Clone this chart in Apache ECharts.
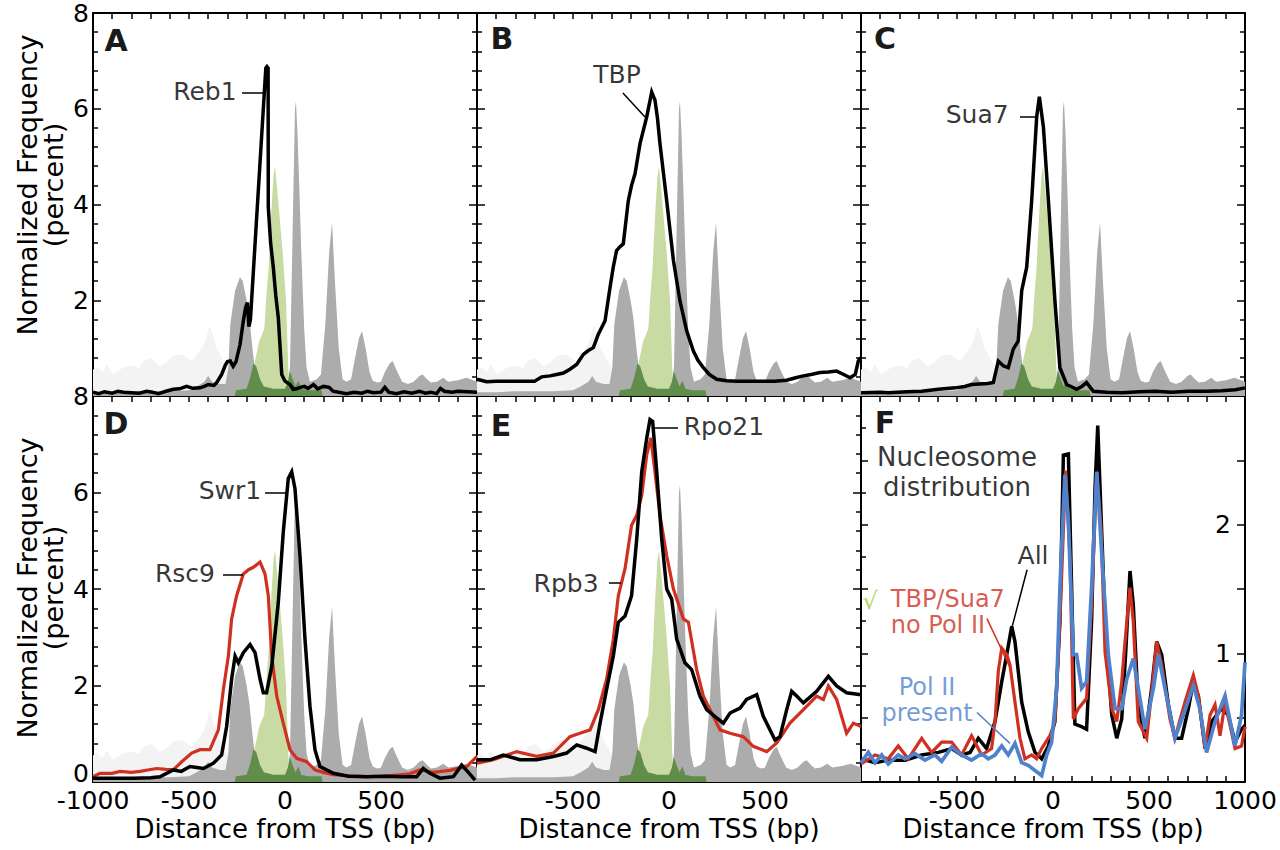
<!DOCTYPE html>
<html>
<head>
<meta charset="utf-8">
<script src="https://cdn.jsdelivr.net/npm/echarts@6/dist/echarts.min.js"></script>
<style>
html,body{margin:0;padding:0;background:#fff;}
#chart{width:1280px;height:850px;}
</style>
</head>
<body>
<div id="chart"></div>
<script>
// ---------------- DATA ----------------
// x ticks / labels
const xTickLabels = [-1000, -500, 0, 500, 1000];
const yTickLabels = [0, 2, 4, 6, 8];
const fTickLabels = [1, 2];

// Background nucleosome / TATA shading (shared by panels A–E)
const lightGrayX = [-1000,-980,-950,-929,-894,-860,-842,-790,-760,-738,-694,-670,-651,-620,-582,-538,-510,-486,-443,-420,-391,-370,-356,-321,-300,-285,-280];
const lightGrayY = [0.55,0.6,0.5,0.66,0.45,0.55,0.6,0.63,0.58,0.73,0.8,0.68,0.62,0.7,0.84,0.87,0.8,0.73,0.94,1.1,1.47,1.2,1.0,0.73,0.6,0.3,0];

const darkGrayX = [-1000,-900,-800,-700,-600,-500,-460,-420,-400,-380,-340,-310,-295,-285,-260,-235,-220,-200,-186,-168,-151,-130,-100,0,20,26,40,52,57,65,75,85,100,112,130,165,187,210,230,245,260,280,300,320,344,365,385,401,420,440,457,480,500,520,545,561,580,610,640,670,700,717,740,760,790,825,850,900,946,1000];
const darkGrayY = [0.08,0.08,0.1,0.1,0.1,0.12,0.2,0.3,0.42,0.3,0.25,0.25,0.6,1.5,2.2,2.48,2.4,2.0,1.64,0.94,0.35,0.3,0.3,0.3,0.35,0.6,3.5,6.0,6.15,5.5,4.3,3.0,1.4,0.6,0.3,0.35,0.45,1.5,3.0,3.63,2.4,1.0,0.35,0.3,0.35,0.8,1.2,1.36,1.0,0.5,0.32,0.28,0.3,0.5,0.68,0.73,0.55,0.3,0.25,0.3,0.42,0.45,0.35,0.28,0.3,0.38,0.3,0.33,0.38,0.3];

const lightGreenX = [-170,-160,-134,-108,-95,-85,-72,-60,-52,-40,-25,-12,5,17,26];
const lightGreenY = [0,0.66,1.15,1.4,2.2,2.7,3.8,4.6,4.8,4.3,3.6,3.0,2.0,0.6,0];

const darkGreenX = [-262,-255,-200,-180,-165,-150,-130,-110,-60,0,15,25,40,55,70,85,120,190,196];
const darkGreenY = [0,0.12,0.15,0.4,0.68,0.62,0.35,0.2,0.15,0.15,0.3,0.52,0.35,0.2,0.32,0.15,0.12,0.12,0];

// Panel A: Reb1
const reb1X = [-1000,-970,-940,-900,-870,-840,-800,-760,-720,-690,-660,-620,-582,-550,-512,-480,-443,-420,-399,-370,-356,-330,-310,-300,-285,-270,-255,-234,-217,-205,-196,-188,-180,-100,-94,-88,-87,-75,-61,-48,-35,-17,0,26,43,60,80,100,120,148,170,200,230,250,280,320,360,400,430,460,500,520,540,580,620,660,700,730,760,790,810,830,870,900,950,1000];
const reb1Y = [0.08,0.05,0.09,0.06,0.1,0.08,0.07,0.06,0.1,0.08,0.05,0.1,0.14,0.15,0.2,0.16,0.17,0.2,0.24,0.22,0.28,0.45,0.65,0.72,0.73,0.62,0.72,1.08,1.57,1.85,1.95,1.45,1.6,6.85,6.88,6.85,3.94,3.2,2.69,2.1,1.64,0.45,0.31,0.24,0.14,0.15,0.18,0.2,0.16,0.24,0.15,0.2,0.18,0.1,0.08,0.05,0.08,0.06,0.1,0.07,0.08,0.18,0.08,0.05,0.09,0.06,0.1,0.06,0.08,0.05,0.16,0.1,0.08,0.1,0.09,0.08];

// Panel B: TBP
const tbpX = [-1000,-950,-900,-800,-700,-663,-620,-585,-550,-516,-481,-446,-420,-394,-368,-333,-307,-290,-273,-255,-238,-212,-195,-177,-151,-116,-90,-73,-60,-47,-12,23,57,92,127,150,179,210,248,300,352,450,550,613,660,700,740,786,830,873,910,943,970,986,1000];
const tbpY = [0.35,0.3,0.31,0.31,0.31,0.4,0.42,0.45,0.48,0.56,0.66,0.87,0.95,1.01,1.29,1.57,2.27,2.7,3.04,3.12,3.18,4.08,4.4,4.64,5.27,5.83,6.35,6.18,5.8,5.27,4.08,2.83,1.99,1.36,0.94,0.75,0.59,0.45,0.35,0.32,0.31,0.31,0.31,0.33,0.38,0.42,0.45,0.49,0.5,0.52,0.45,0.38,0.45,0.73,0.8];

// Panel C: Sua7
const sua7X = [-1000,-900,-858,-760,-684,-597,-510,-460,-424,-340,-311,-285,-259,-233,-207,-181,-163,-137,-111,-85,-71,-50,-24,10,36,71,123,150,175,210,280,358,450,531,620,705,800,878,950,1000];
const sua7Y = [0.07,0.08,0.07,0.09,0.1,0.14,0.17,0.2,0.24,0.26,0.28,0.73,0.63,0.59,0.98,1.15,2.2,2.69,4.08,5.83,6.25,5.62,4.08,1.99,0.59,0.24,0.14,0.2,0.28,0.1,0.08,0.07,0.09,0.1,0.08,0.1,0.1,0.11,0.13,0.17];

// Panel D: Swr1 (black) and Rsc9 (red)
const swr1X = [-1000,-900,-790,-700,-651,-582,-540,-495,-460,-425,-373,-330,-304,-278,-260,-243,-217,-182,-156,-130,-113,-96,-69,-35,-9,17,35,52,78,104,130,156,182,252,330,425,520,599,686,720,755,807,877,920,955,990];
const swr1Y = [0.08,0.08,0.08,0.09,0.11,0.25,0.22,0.32,0.3,0.28,0.39,0.56,1.15,2.13,2.61,2.47,2.68,2.85,2.68,2.13,1.85,1.85,2.4,3.72,5.18,6.29,6.43,6.08,4.69,2.96,1.57,0.67,0.32,0.18,0.12,0.11,0.12,0.11,0.11,0.28,0.18,0.08,0.11,0.35,0.2,0.04];
const rsc9X = [-1000,-964,-900,-859,-800,-755,-700,-668,-620,-582,-538,-486,-443,-391,-347,-321,-295,-278,-252,-217,-190,-165,-130,-104,-87,-69,-43,-9,26,61,113,156,200,252,340,425,520,599,650,703,772,859,946,1000];
const rsc9Y = [0.11,0.18,0.18,0.22,0.2,0.22,0.26,0.28,0.26,0.25,0.42,0.6,0.67,0.67,1.08,1.92,2.61,3.38,3.86,4.31,4.4,4.45,4.56,4.31,3.86,2.61,1.78,1.22,0.67,0.49,0.42,0.25,0.2,0.15,0.13,0.11,0.12,0.15,0.17,0.25,0.2,0.24,0.32,0.53];

// Panel E: Rpo21 (black) and Rpb3 (red)
const rpo21X = [-1000,-932,-863,-776,-689,-602,-533,-481,-429,-385,-359,-325,-290,-264,-229,-195,-168,-142,-116,-99,-85,-64,-38,-12,14,40,83,118,161,196,248,283,318,370,404,457,491,552,578,613,639,665,700,769,830,873,925,1000];
const rpo21Y = [0.46,0.46,0.56,0.46,0.46,0.53,0.6,0.77,0.7,0.63,1.22,1.92,2.61,3.31,3.44,3.86,5.04,6.43,7.13,7.51,7.47,6.43,5.04,4.0,3.79,2.96,2.47,2.33,1.78,1.5,1.33,1.22,1.43,1.53,1.71,1.81,1.36,0.87,0.94,1.5,1.88,1.78,1.64,1.88,2.19,1.99,1.85,1.81];
const rpb3X = [-1000,-915,-793,-689,-602,-516,-464,-411,-368,-325,-290,-264,-229,-195,-168,-142,-116,-95,-73,-47,-12,23,75,101,144,179,231,266,318,387,439,509,561,630,700,769,804,830,873,925,960,1000];
const rpb3Y = [0.39,0.46,0.63,0.53,0.6,0.94,1.01,1.08,1.5,2.13,2.96,3.86,4.42,5.32,5.53,5.94,6.78,7.13,6.43,5.53,4.69,4.0,3.38,3.31,2.33,1.78,1.36,1.08,1.01,0.94,0.74,0.63,0.81,1.22,1.5,1.78,1.71,1.99,1.71,1.01,1.22,1.15];

// Panel F: nucleosome distributions
const allX = [-1000,-927,-858,-771,-684,-597,-528,-476,-432,-389,-346,-302,-267,-241,-215,-198,-163,-129,-94,-59,-24,10,36,54,80,97,114,149,175,201,219,233,245,271,306,332,358,378,401,418,444,479,514,540,566,601,635,670,705,731,757,792,827,878,913,948,982,1000];
const allY = [0.18,0.15,0.17,0.17,0.21,0.23,0.26,0.21,0.23,0.34,0.26,0.47,0.78,0.99,1.21,1.09,0.62,0.39,0.23,0.18,0.28,0.47,1.25,2.54,2.55,1.51,0.45,0.43,0.41,1.25,2.29,2.77,2.29,1.25,0.52,0.34,0.49,0.99,1.64,1.38,0.6,0.34,0.73,1.09,0.99,0.6,0.34,0.34,0.57,0.78,0.67,0.26,0.47,0.57,0.52,0.31,0.41,0.44];
const noPolX = [-1000,-927,-858,-806,-754,-684,-632,-580,-528,-476,-424,-372,-320,-302,-285,-267,-241,-224,-198,-172,-146,-111,-85,-59,-16,10,36,66,89,106,132,175,201,228,250,271,306,332,358,375,401,418,444,488,523,540,566,609,635,687,731,757,792,818,844,870,896,948,982,1000];
const noPolY = [0.14,0.21,0.18,0.28,0.18,0.34,0.23,0.31,0.31,0.21,0.36,0.21,0.26,0.47,0.86,1.04,0.99,0.91,0.62,0.34,0.18,0.21,0.18,0.26,0.36,0.47,1.25,2.42,1.72,0.49,0.57,0.65,1.38,2.41,1.98,1.01,0.57,0.47,0.78,1.09,1.51,1.25,0.47,0.34,0.83,1.09,0.91,0.49,0.34,0.62,0.83,0.67,0.26,0.52,0.6,0.36,0.62,0.26,0.28,0.43];
const polX = [-1000,-962,-927,-892,-858,-806,-771,-719,-667,-615,-580,-528,-476,-424,-372,-337,-302,-267,-233,-198,-163,-129,-85,-59,-33,-7,19,36,62,80,106,123,149,175,201,228,254,288,323,358,384,418,444,479,523,549,583,635,679,731,765,800,844,896,948,982,1000];
const polY = [0.15,0.23,0.15,0.21,0.14,0.21,0.18,0.22,0.17,0.21,0.16,0.27,0.21,0.17,0.22,0.18,0.21,0.28,0.21,0.3,0.15,0.13,0.08,0.05,0.21,0.31,0.73,1.51,2.39,2.03,0.99,0.99,0.73,0.78,1.51,2.41,1.77,0.99,0.57,0.57,0.8,0.96,0.73,0.41,0.73,0.99,0.73,0.34,0.52,0.75,0.57,0.23,0.47,0.67,0.28,0.52,0.93];

// Annotation anchors (data coordinates)
const annotations = [
  {panel:0, text:'Reb1', at:[-417,6.35], line:[[-224,6.33],[-104,6.33]]},
  {panel:1, text:'TBP', at:[-271,6.72], line:[[-240,6.33],[-125,5.83]]},
  {panel:2, text:'Sua7', at:[-395,5.87], line:[[-172,5.83],[-94,5.83]]},
  {panel:3, text:'Swr1', at:[-287,6.05], line:[[-104,5.99],[8,5.99]]},
  {panel:3, text:'Rsc9', at:[-521,4.33], line:[[-323,4.29],[-219,4.29]]},
  {panel:4, text:'Rpo21', at:[286,7.36], line:[[-73,7.34],[47,7.34]]},
  {panel:4, text:'Rpb3', at:[-536,4.12], line:[[-313,4.12],[-250,4.12]]}
];

const panelLetters = ['A','B','C','D','E','F'];

// ---------------- CHART ----------------
const FONT = "'DejaVu Sans', Verdana, sans-serif";
const TICK_FS = 25;
const zip = (xs, ys) => xs.map((x, i) => [x, ys[i]]);
const chart = echarts.init(document.getElementById('chart'), null, {renderer: 'svg'});

const gridW = 384;
const grids = [];
for (let r = 0; r < 2; r++) {
  for (let c = 0; c < 3; c++) {
    grids.push({left: 93 + c * gridW, top: r === 0 ? 13 : 396, width: gridW, height: r === 0 ? 383 : 386, containLabel: false});
  }
}

const lineAx = {show: true, onZero: false, lineStyle: {color: '#000', width: 2}};
const tickStyle = {color: '#000', width: 1.5};
const xAxes = [], yAxes = [];
for (let i = 0; i < 6; i++) {
  const bottomRow = i >= 3;
  xAxes.push({
    gridIndex: i, type: 'value', min: xTickLabels[0], max: xTickLabels[xTickLabels.length - 1], interval: 500, position: 'bottom',
    axisLine: lineAx,
    axisTick: {show: true, inside: true, length: 6, lineStyle: tickStyle},
    minorTick: {show: true, splitNumber: 5, length: 6, lineStyle: tickStyle},
    splitLine: {show: false}, minorSplitLine: {show: false},
    axisLabel: {
      show: bottomRow, color: '#000', fontSize: TICK_FS, fontFamily: FONT, margin: 6,
      showMinLabel: i === 3, showMaxLabel: i === 5,
      formatter: v => String(v)
    }
  });
  xAxes.push({
    gridIndex: i, type: 'value', min: -1000, max: 1000, interval: 500, position: 'top',
    axisLine: lineAx,
    axisTick: {show: true, inside: true, length: 6, lineStyle: tickStyle},
    minorTick: {show: true, splitNumber: 5, length: 6, lineStyle: tickStyle},
    splitLine: {show: false}, axisLabel: {show: false}
  });
  if (i !== 5) {
    yAxes.push({
      gridIndex: i, type: 'value', min: 0, max: 8, interval: 2, position: 'left',
      axisLine: lineAx,
      axisTick: {show: true, inside: true, length: 8, lineStyle: tickStyle},
      minorTick: {show: true, splitNumber: 5, length: 5, lineStyle: tickStyle},
      splitLine: {show: false},
      axisLabel: {show: i === 0 || i === 3, color: '#000', fontSize: TICK_FS, fontFamily: FONT, margin: 4, showMinLabel: i === 3,
        formatter: v => v === 0 ? '{z|0}' : (yTickLabels.includes(v) ? String(v) : ''),
        rich: {z: {fontSize: TICK_FS, fontFamily: FONT, color: '#000', padding: [0, 0, 18, 0]}}}
    });
    yAxes.push({
      gridIndex: i, type: 'value', min: 0, max: 8, interval: 2, position: 'right',
      axisLine: lineAx,
      axisTick: {show: true, inside: true, length: 8, lineStyle: tickStyle},
      minorTick: {show: true, splitNumber: 5, length: 5, lineStyle: tickStyle},
      splitLine: {show: false}, axisLabel: {show: false}
    });
  } else {
    yAxes.push({
      gridIndex: i, type: 'value', min: 0, max: 3, interval: 0.5, position: 'left',
      axisLine: lineAx,
      axisTick: {show: true, inside: true, length: 7, lineStyle: tickStyle},
      minorTick: {show: true, splitNumber: 2, length: 5, lineStyle: tickStyle},
      splitLine: {show: false}, axisLabel: {show: false}
    });
    yAxes.push({
      gridIndex: i, type: 'value', min: 0, max: 3, interval: 0.5, position: 'right',
      axisLine: lineAx,
      axisTick: {show: true, inside: true, length: 8, lineStyle: tickStyle},
      splitLine: {show: false},
      axisLabel: {show: true, inside: true, color: '#000', fontSize: TICK_FS, fontFamily: FONT, margin: 14,
        formatter: v => fTickLabels.includes(v) ? String(v) : ''}
    });
  }
}

const series = [];
function area(i, xs, ys, color) {
  series.push({type: 'line', xAxisIndex: 2 * i, yAxisIndex: 2 * i, data: zip(xs, ys), symbol: 'none',
    lineStyle: {width: 0}, areaStyle: {color: color, opacity: 1}, silent: true});
}
function curve(i, xs, ys, color, width) {
  series.push({type: 'line', xAxisIndex: 2 * i, yAxisIndex: 2 * i, data: zip(xs, ys), symbol: 'none',
    lineStyle: {color: color, width: width, join: 'miter'}, silent: true});
}
for (let i = 0; i < 5; i++) {
  area(i, lightGrayX, lightGrayY, '#f3f3f3');
  area(i, darkGrayX, darkGrayY, '#acacac');
  area(i, lightGreenX, lightGreenY, '#c8dba3');
  area(i, darkGreenX, darkGreenY, '#618d4b');
}
const BLACK = '#000', RED = '#d0301f', BLUE = '#4f82cc';
curve(0, reb1X, reb1Y, BLACK, 3.5);
curve(1, tbpX, tbpY, BLACK, 3.5);
curve(2, sua7X, sua7Y, BLACK, 3.5);
curve(3, rsc9X, rsc9Y, RED, 3.2);
curve(3, swr1X, swr1Y, BLACK, 3.5);
curve(4, rpb3X, rpb3Y, RED, 3.2);
curve(4, rpo21X, rpo21Y, BLACK, 3.5);
curve(5, allX, allY, BLACK, 3.5);
curve(5, noPolX, noPolY, RED, 3.2);
curve(5, polX, polY, BLUE, 3.7);

// annotation series (one invisible scatter per panel)
function annotate(i, yAxisIndex, items, lines) {
  series.push({
    type: 'scatter', xAxisIndex: 2 * i, yAxisIndex: yAxisIndex, symbolSize: 0, silent: true,
    data: items.map(a => ({value: a.at, label: {show: true, formatter: a.text, color: a.color || '#000',
      fontSize: a.size || 25, fontFamily: FONT, position: 'inside', align: a.align || 'center',
      verticalAlign: 'middle', lineHeight: a.lh || 28}})),
    markLine: {silent: true, symbol: ['none', 'none'], animation: false, label: {show: false},
      data: lines.map(l => [{coord: l.pts[0], lineStyle: {color: l.color, width: l.w || 1.5, type: 'solid'}}, {coord: l.pts[1]}])}
  });
}
for (let i = 0; i < 5; i++) {
  const a = annotations.filter(o => o.panel === i);
  annotate(i, 2 * i, a, a.map(o => ({pts: o.line, color: '#000'})));
}
annotate(5, 10, [
  {text: 'Nucleosome\ndistribution', at: [-500, 2.41], lh: 30, size: 26},
  {text: 'All', at: [-104, 1.76]},
  {text: '√', at: [-953, 1.41], color: '#9fcc3a', size: 24},
  {text: 'TBP/Sua7\nno Pol II', at: [-845, 1.32], color: RED, align: 'left', lh: 26, size: 24},
  {text: 'Pol II\npresent', at: [-656, 0.64], color: BLUE, lh: 26, size: 24}
], [
  {pts: [[-135, 1.65], [-214, 1.20]], color: '#000'},
  {pts: [[-344, 1.27], [-224, 0.89]], color: RED},
  {pts: [[-396, 0.54], [-224, 0.30]], color: BLUE}
]);

// panel letters and axis titles
const graphic = [];
const letterPos = [[116, 40], [502, 38], [885, 38], [116, 423], [501, 425], [885, 422]];
panelLetters.forEach((L, k) => graphic.push({type: 'text', x: letterPos[k][0], y: letterPos[k][1], z: 100,
  style: {text: L, font: 'bold 30px ' + FONT, fill: '#1a1a1a', align: 'center', verticalAlign: 'middle'}}));
[185, 588].forEach(cy => {
  graphic.push({type: 'text', x: 27, y: cy, rotation: Math.PI / 2, z: 100,
    style: {text: 'Normalized Frequency', font: '27px ' + FONT, fill: '#000', align: 'center', verticalAlign: 'middle'}});
  graphic.push({type: 'text', x: 53, y: cy, rotation: Math.PI / 2, z: 100,
    style: {text: '(percent)', font: '27px ' + FONT, fill: '#000', align: 'center', verticalAlign: 'middle'}});
});
[285, 669, 1053].forEach(cx => graphic.push({type: 'text', x: cx, y: 829, z: 100,
  style: {text: 'Distance from TSS (bp)', font: '26px ' + FONT, fill: '#000', align: 'center', verticalAlign: 'middle'}}));

chart.setOption({
  animation: false,
  backgroundColor: '#fff',
  grid: grids,
  xAxis: xAxes,
  yAxis: yAxes,
  series: series,
  graphic: graphic
});
</script>
</body>
</html>
